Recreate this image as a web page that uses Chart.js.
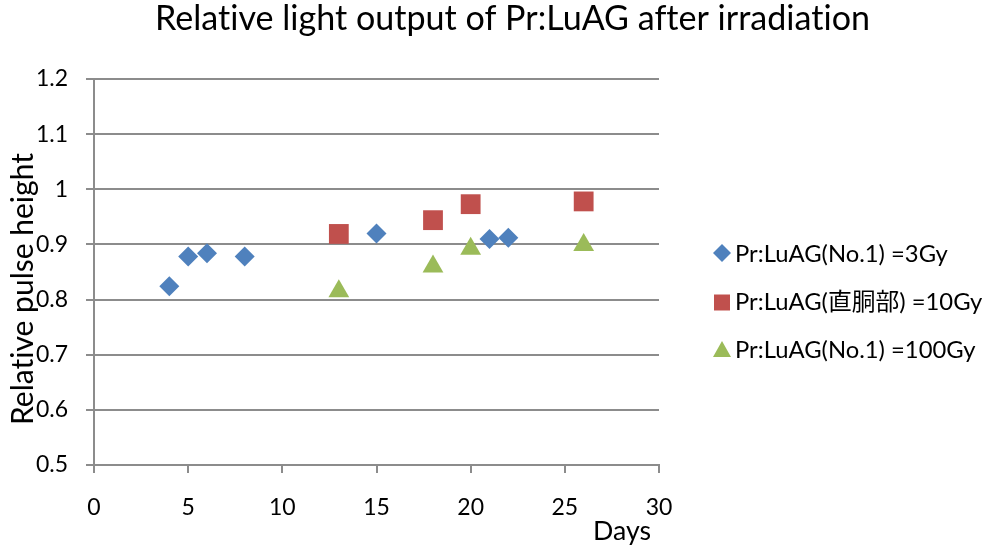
<!DOCTYPE html>
<html><head><meta charset="utf-8">
<script src="https://cdn.jsdelivr.net/npm/chart.js@4.4.1/dist/chart.umd.min.js"></script>
<style>html,body{margin:0;padding:0;background:#fff;overflow:hidden}</style>
</head><body>
<canvas id="c" width="997" height="552"></canvas>
<script>
const chartTitle = "Relative light output of Pr:LuAG after irradiation";
const xAxisTitle = "Days";
const yAxisTitle = "Relative pulse height";
const seriesNames = ["Pr:LuAG(No.1) =3Gy", "Pr:LuAG(直胴部) =10Gy", "Pr:LuAG(No.1) =100Gy"];

const days3Gy = [4, 5, 6, 8, 15, 21, 22];
const values3Gy = [0.824, 0.878, 0.884, 0.878, 0.920, 0.910, 0.912];
const days10Gy = [13, 18, 20, 26];
const values10Gy = [0.919, 0.944, 0.973, 0.978];
const days100Gy = [13, 18, 20, 26];
const values100Gy = [0.815, 0.860, 0.892, 0.899];

const xTicks = [0, 5, 10, 15, 20, 25, 30];
const yTicks = [0.5, 0.6, 0.7, 0.8, 0.9, 1.0, 1.1, 1.2];

const seriesColors = ['#4F81BD', '#C0504D', '#9BBB59'];
const FONT = "Lato, 'Noto Sans CJK JP', sans-serif";
const GRID = '#8c8c8c';

function pts(xs, ys) { return xs.map((x, i) => ({ x: x, y: ys[i] })); }

function fitSize(ctx, text, width) {
  ctx.font = '100px ' + FONT;
  return 100 * width / ctx.measureText(text).width;
}

function drawMarker(ctx, style, x, y, color) {
  ctx.fillStyle = color;
  ctx.beginPath();
  if (style === 'diamond') {
    ctx.moveTo(x - 9, y); ctx.lineTo(x, y - 9); ctx.lineTo(x + 9, y); ctx.lineTo(x, y + 9);
  } else if (style === 'square') {
    ctx.rect(x - 8, y - 8, 16, 16);
  } else {
    ctx.moveTo(x, y - 9); ctx.lineTo(x + 9, y + 7); ctx.lineTo(x - 9, y + 7);
  }
  ctx.closePath();
  ctx.fill();
}

const annotations = {
  id: 'annotations',
  afterDraw(chart) {
    const ctx = chart.ctx;
    ctx.save();
    try { ctx.textRendering = 'optimizeSpeed'; } catch (e) {}
    ctx.fillStyle = '#000';
    ctx.textBaseline = 'alphabetic';
    // title
    let s = fitSize(ctx, chartTitle, 715);
    ctx.font = s + 'px ' + FONT;
    ctx.textAlign = 'center';
    ctx.fillText(chartTitle, 512.5, 29.5);
    // x axis title
    s = fitSize(ctx, xAxisTitle, 58);
    ctx.font = s + 'px ' + FONT;
    ctx.textAlign = 'left';
    ctx.fillText(xAxisTitle, 593, 540);
    // y axis title
    s = fitSize(ctx, yAxisTitle, 272);
    ctx.save();
    ctx.translate(33, 289);
    ctx.rotate(-Math.PI / 2);
    ctx.font = s + 'px ' + FONT;
    ctx.textAlign = 'center';
    ctx.fillText(yAxisTitle, 0, 0);
    ctx.restore();
    // legend
    const ls = fitSize(ctx, seriesNames[0], 213);
    const styles = ['diamond', 'square', 'triangle'];
    const rows = [262, 310, 358];
    const marks = [253, 302.5, 350];
    for (let i = 0; i < seriesNames.length; i++) {
      drawMarker(ctx, styles[i], 722, marks[i], seriesColors[i]);
      ctx.fillStyle = '#000';
      ctx.font = ls + 'px ' + FONT;
      ctx.textAlign = 'left';
      ctx.fillText(seriesNames[i], 735, rows[i]);
    }
    ctx.restore();
  }
};

new Chart(document.getElementById('c'), {
  type: 'scatter',
  data: {
    datasets: [
      { label: seriesNames[0], data: pts(days3Gy, values3Gy), pointStyle: 'rectRot', pointRadius: 10,
        backgroundColor: seriesColors[0], borderColor: seriesColors[0], borderWidth: 0 },
      { label: seriesNames[1], data: pts(days10Gy, values10Gy), pointStyle: 'rect', pointRadius: 14,
        backgroundColor: seriesColors[1], borderColor: seriesColors[1], borderWidth: 0 },
      { label: seriesNames[2], data: pts(days100Gy, values100Gy), pointStyle: 'triangle', pointRadius: 12,
        backgroundColor: seriesColors[2], borderColor: seriesColors[2], borderWidth: 0 }
    ]
  },
  options: {
    responsive: false,
    animation: false,
    layout: { padding: { top: 79, right: 338, left: 0, bottom: 0 } },
    plugins: { legend: { display: false }, title: { display: false }, tooltip: { enabled: false } },
    scales: {
      x: {
        type: 'linear', min: xTicks[0], max: xTicks[xTicks.length - 1],
        afterBuildTicks: sc => { sc.ticks = xTicks.map(v => ({ value: v })); },
        afterFit: sc => { sc.height = 87; },
        ticks: { font: { family: FONT, size: 23 }, color: '#000', padding: 21, maxRotation: 0, autoSkip: false },
        grid: { display: true, drawOnChartArea: false, drawTicks: true, tickLength: 8, color: GRID, lineWidth: 2 },
        border: { display: true, color: GRID, width: 2 }
      },
      y: {
        type: 'linear', min: yTicks[0], max: yTicks[yTicks.length - 1],
        afterBuildTicks: sc => { sc.ticks = yTicks.map(v => ({ value: v })); },
        afterFit: sc => { sc.width = 94; },
        ticks: { font: { family: FONT, size: 23 }, color: '#000', padding: 18,
                 callback: v => String(Number(v.toFixed(1))) },
        grid: { display: true, drawTicks: true, tickLength: 8, color: GRID, lineWidth: 2 },
        border: { display: true, color: GRID, width: 2 }
      }
    }
  },
  plugins: [annotations]
});
</script>
</body></html>
